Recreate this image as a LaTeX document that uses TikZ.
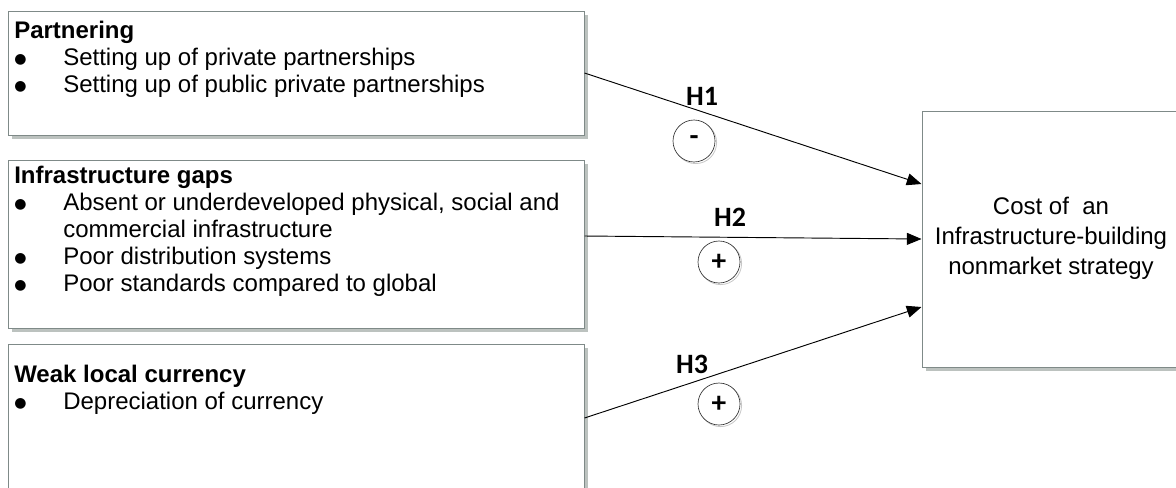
\documentclass[tikz,border=0pt]{standalone}
\usepackage{fontspec}
\setmainfont{Liberation Sans}
\newfontfamily\calib{Carlito}
\newfontfamily\dejavu{DejaVu Sans}
\usetikzlibrary{arrows.meta,shadows,calc}
\definecolor{edgegray}{HTML}{7F8A88}
\definecolor{shadegray}{HTML}{BCC2BF}
\newcommand{\bigbul}{\raisebox{1.5pt}{\dejavu\fontsize{10.5pt}{10.5pt}\selectfont ●}}
\begin{document}
\begin{tikzpicture}[x=0.75pt,y=-0.75pt,
  box/.style={draw=edgegray, line width=0.75pt, fill=white, inner sep=0pt,
    drop shadow={shadow xshift=3pt, shadow yshift=-3pt, opacity=1, fill=shadegray, draw=none}},
  txt/.style={inner sep=0pt, anchor=north west, font=\fontsize{18pt}{20.25pt}\selectfont},
  arr/.style={draw=black, line width=0.7pt, -{Triangle[length=11pt,width=9pt]}},
  hlab/.style={inner sep=0pt, font=\calib\bfseries\fontsize{21pt}{21pt}\selectfont},
  sign/.style={circle, draw=black!80, line width=0.5pt, fill=white, minimum size=31.5pt, inner sep=0pt,
    font=\calib\bfseries\fontsize{22pt}{22pt}\selectfont,
    general shadow={shadow xshift=1.2pt, shadow yshift=-1.2pt, draw=black!22, line width=0.6pt, fill=white}}
]
\useasboundingbox (0,0) rectangle (1176,487);
\clip (0,0) rectangle (1176,487);

% boxes
\node[box, minimum width=432pt, minimum height=93pt] (b1) at (296,73) {};
\node[box, minimum width=432pt, minimum height=126pt] (b2) at (296,244) {};
\node[box, minimum width=432pt, minimum height=132pt] (b3) at (296,432) {};
\node[box, minimum width=238.5pt, minimum height=192pt] (rb) at (1081,239) {};

% box texts
\node[txt] (t1) at (14,19) {\begin{tabular}{@{}p{36.75pt}@{}l@{}}
\multicolumn{2}{@{}l@{}}{\textbf{Partnering}}\\
\bigbul & Setting up of private partnerships\\
\bigbul & Setting up of public private partnerships
\end{tabular}};
\node[txt] (t2) at (14,164) {\begin{tabular}{@{}p{36.75pt}@{}l@{}}
\multicolumn{2}{@{}l@{}}{\textbf{Infrastructure gaps}}\\
\bigbul & Absent or underdeveloped physical, social and\\
 & commercial infrastructure\\
\bigbul & Poor distribution systems\\
\bigbul & Poor standards compared to global
\end{tabular}};
\node[txt] (t3) at (14,363) {\begin{tabular}{@{}p{36.75pt}@{}l@{}}
\multicolumn{2}{@{}l@{}}{\textbf{Weak local currency}}\\
\bigbul & Depreciation of currency
\end{tabular}};

\node[align=center, inner sep=0pt, font=\fontsize{18pt}{22.5pt}\selectfont] (ct) at (1051,238)
  {Cost of~ an\\Infrastructure-building\\nonmarket strategy};

% arrows
\draw[arr] (b1.east) -- ([yshift=41.25pt]rb.west);
\draw[arr] ([yshift=6pt]b2.east) -- (rb.west);
\draw[arr] ([yshift=10.5pt]b3.east) -- ([yshift=-51pt]rb.west);

% hypothesis labels
\node[hlab] (h1) at (702,96) {H1};
\node[hlab] (h2) at (730,217) {H2};
\node[hlab] (h3) at (692,364) {H3};
\node[sign] (c1) at (694,141) {-};
\node[sign] (c2) at (719,262) {+};
\node[sign] (c3) at (719,404) {+};
\end{tikzpicture}
\end{document}
